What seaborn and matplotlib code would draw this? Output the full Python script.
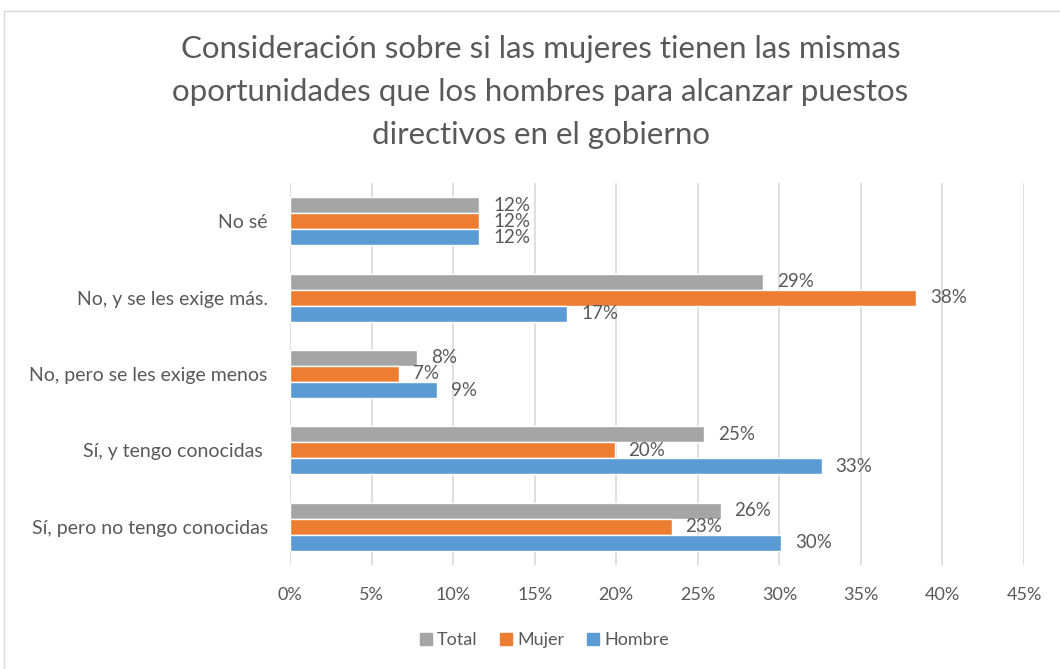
import numpy as np
import pandas as pd
import matplotlib
matplotlib.use("Agg")
import matplotlib.pyplot as plt
from matplotlib.ticker import FuncFormatter
from matplotlib.lines import Line2D
import seaborn as sns

# -------------------------
# Data (in %)
# -------------------------
categories = ["No sé", "No, y se les exige más.", "No, pero se les exige menos",
              "Sí, y tengo conocidas ", "Sí, pero no tengo conocidas"]
series = ["Total", "Mujer", "Hombre"]
total = [11.6, 29.0, 7.8, 25.4, 26.4]
mujer = [11.6, 38.4, 6.7, 19.9, 23.4]
hombre = [11.6, 17.0, 9.0, 32.6, 30.1]
x_ticks = [0, 5, 10, 15, 20, 25, 30, 35, 40, 45]

colors = ["#A5A5A5", "#ED7D31", "#5B9BD5"]
text_col = "#595959"

df = pd.DataFrame({
    "categoria": categories * 3,
    "serie": [s for s in series for _ in categories],
    "valor": total + mujer + hombre,
})

sns.set_style("white")
plt.rcParams["font.family"] = ["Lato", "DejaVu Sans"]

fig = plt.figure(figsize=(10.6, 6.69), dpi=100)
ax = fig.add_axes([290 / 1060, 1 - 565 / 669, (1024 - 290) / 1060, (565 - 183) / 669])

sns.barplot(data=df, y="categoria", x="valor", hue="serie", order=categories,
            hue_order=series, palette=colors, orient="h", width=0.63,
            saturation=1, errorbar=None, legend=False, ax=ax)

for cont in ax.containers:
    ax.bar_label(cont, labels=[f"{v:.0f}%" for v in cont.datavalues],
                 padding=10, fontsize=13.5, color=text_col)

ax.set_xlim(0, 45)
ax.set_ylim(4.5, -0.5)
ax.set_xticks(x_ticks)
ax.xaxis.set_major_formatter(FuncFormatter(lambda v, p: f"{v:.0f}%"))
ax.grid(axis="x", color="#D9D9D9", linewidth=1.2)
ax.set_axisbelow(True)
for s in ax.spines.values():
    s.set_visible(False)
ax.tick_params(axis="x", length=0, pad=16, labelsize=13, labelcolor=text_col)
ax.tick_params(axis="y", length=0, pad=16, labelsize=14, labelcolor=text_col)
ax.set_xlabel("")
ax.set_ylabel("")

fig.suptitle("Consideración sobre si las mujeres tienen las mismas\n"
             "oportunidades que los hombres para alcanzar puestos\n"
             "directivos en el gobierno",
             x=0.51, y=0.948, fontsize=22.5, color=text_col, linespacing=1.65)

handles = [Line2D([], [], marker="s", linestyle="", markersize=9, color=c) for c in colors]
fig.legend(handles, series, loc="center", bbox_to_anchor=(0.513, 0.043), ncol=3,
           frameon=False, fontsize=13, labelcolor=text_col, handletextpad=0.2,
           columnspacing=1.2, handlelength=0.8)

# light chart border
fig.add_artist(Line2D([4 / 1060, 4 / 1060], [0, 1 - 11 / 669], color="#D9D9D9",
                      linewidth=1, transform=fig.transFigure))
fig.add_artist(Line2D([4 / 1060, 1], [1 - 11 / 669, 1 - 11 / 669], color="#D9D9D9",
                      linewidth=1, transform=fig.transFigure))

fig.savefig("out.png", dpi=100)
